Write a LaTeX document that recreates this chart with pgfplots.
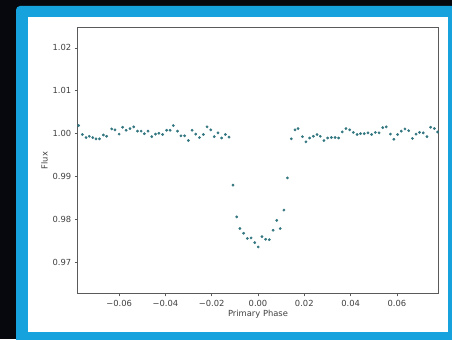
\documentclass[border=0pt]{standalone}
\usepackage{fontspec}
\setmainfont{DejaVu Sans}
\usepackage{pgfplots}
\pgfplotsset{compat=1.18}
\definecolor{bgdark}{RGB}{6,8,14}
\definecolor{frameblue}{RGB}{22,163,221}
\definecolor{pt}{RGB}{50,118,128}
\definecolor{spine}{RGB}{90,90,90}
\begin{document}
\begin{tikzpicture}[x=1bp,y=1bp]
\path[use as bounding box] (0,0) rectangle (452,339);
\clip (0,0) rectangle (452,339);
\fill[bgdark] (0,0) rectangle (452,339);
\fill[frameblue,rounded corners=4bp] (16,-6) rectangle (458,333);
\fill[white] (28,7) rectangle (448,322);
\begin{axis}[
  at={(77.7bp,45.7bp)}, anchor=south west,
  scale only axis, width=360.6bp, height=265.6bp,
  xmin=-0.0779, xmax=0.0779, ymin=0.9628, ymax=1.0247,
  xtick={-0.06,-0.04,-0.02,0,0.02,0.04,0.06},
  xticklabels={−0.06,−0.04,−0.02,0.00,0.02,0.04,0.06},
  ytick={0.97,0.98,0.99,1.00,1.01,1.02},
  yticklabels={0.97,0.98,0.99,1.00,1.01,1.02},
  tick align=outside, xtick pos=bottom, ytick pos=left,
  major tick length=3bp,
  every tick/.style={spine, line width=0.6pt},
  axis line style={spine, line width=0.8pt},
  tick label style={font=\fontsize{8.4}{9}\selectfont, text=black!75},
  label style={font=\fontsize{8.4}{9}\selectfont, text=black!75},
  xlabel={Primary Phase}, ylabel={Flux},
  xlabel style={yshift=3bp},
  ylabel style={yshift=-2bp},
  scaled ticks=false,
]
\addplot[only marks, mark=*, mark size=1.2pt, mark options={fill=pt, draw=pt}] coordinates {
(-0.0775,1.0019) (-0.0759,0.9998) (-0.0743,0.9991) (-0.0729,0.9994) (-0.0714,0.9991)
(-0.0700,0.9988) (-0.0685,0.9988) (-0.0668,0.9997) (-0.0654,0.9994) (-0.0632,1.0011)
(-0.0618,1.0009) (-0.0600,0.9999) (-0.0585,1.0015) (-0.0570,1.0008) (-0.0553,1.0012)
(-0.0537,1.0016) (-0.0521,1.0006) (-0.0505,1.0006) (-0.0491,1.0000) (-0.0475,1.0006)
(-0.0459,0.9993) (-0.0443,0.9999) (-0.0428,1.0001) (-0.0412,0.9998) (-0.0395,1.0008)
(-0.0380,1.0008) (-0.0366,1.0019) (-0.0348,1.0006) (-0.0333,0.9995) (-0.0317,0.9995)
(-0.0301,0.9984) (-0.0285,1.0008) (-0.0269,0.9999) (-0.0253,0.9991) (-0.0236,0.9998)
(-0.0220,1.0016) (-0.0204,1.0009) (-0.0189,0.9993) (-0.0173,1.0002) (-0.0157,0.9990)
(-0.0141,0.9998) (-0.0125,0.9992)
(-0.0108,0.9880) (-0.0092,0.9806) (-0.0078,0.9779) (-0.0062,0.9768) (-0.0046,0.9756)
(-0.0030,0.9757) (-0.0014,0.9746) (0.0001,0.9736) (0.0017,0.9760) (0.0033,0.9754)
(0.0049,0.9753) (0.0065,0.9775) (0.0081,0.9798) (0.0096,0.9779) (0.0112,0.9822)
(0.0127,0.9897)
(0.0144,0.9988) (0.0160,1.0009) (0.0173,1.0012) (0.0192,0.9993) (0.0207,0.9981)
(0.0223,0.9990) (0.0239,0.9994) (0.0255,0.9998) (0.0269,0.9994) (0.0285,0.9984)
(0.0301,0.9990) (0.0317,0.9991) (0.0333,0.9991) (0.0348,0.9990) (0.0364,1.0004)
(0.0380,1.0012) (0.0396,1.0009) (0.0412,1.0003) (0.0428,0.9998) (0.0443,1.0000)
(0.0459,1.0000) (0.0475,1.0002) (0.0491,0.9998) (0.0507,1.0003) (0.0523,1.0002)
(0.0539,1.0014) (0.0554,1.0016) (0.0572,0.9999) (0.0587,0.9987) (0.0603,0.9998)
(0.0619,1.0006) (0.0635,1.0011) (0.0651,1.0007) (0.0667,0.9989) (0.0683,0.9999)
(0.0698,1.0003) (0.0714,1.0002) (0.0730,0.9993) (0.0746,1.0015) (0.0762,1.0012)
(0.0776,1.0004)
};
\end{axis}
\end{tikzpicture}
\end{document}
